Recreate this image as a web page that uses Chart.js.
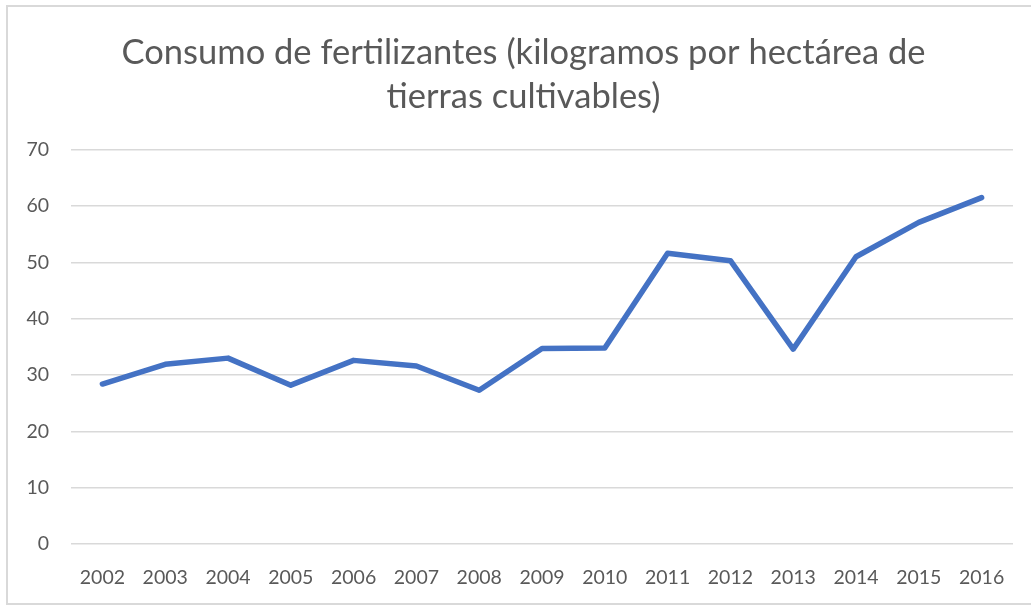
<!DOCTYPE html>
<html>
<head>
<meta charset="utf-8">
<script src="https://cdn.jsdelivr.net/npm/chart.js@4.4.0/dist/chart.umd.min.js"></script>
<style>
    html, body { margin: 0; padding: 0; background: #fff; overflow: hidden; }
    #box {
        position: absolute; left: 6px; top: 5px;
        width: 1030px; height: 596px;
        border: 2px solid #d9d9d9; background: #fff;
    }
</style>
</head>
<body>
<div id="box"><canvas id="chart"></canvas></div>
<script>
    // datos
    var years = ["2002","2003","2004","2005","2006","2007","2008","2009","2010","2011","2012","2013","2014","2015","2016"];
    var consumo = [28.4, 31.9, 33.0, 28.2, 32.6, 31.6, 27.3, 34.7, 34.8, 51.6, 50.3, 34.6, 51.0, 57.1, 61.5];
    var titleLines = ["Consumo de fertilizantes (kilogramos por hectárea de", "tierras cultivables)"];

    var FONT = "Lato, 'Open Sans', sans-serif";
    var GREY = "#595959";

    // el titulo del original esta algo desplazado a la derecha
    var shiftTitle = {
        id: 'shiftTitle',
        afterLayout: function (chart) {
            if (chart.titleBlock) {
                chart.titleBlock.left += 13;
                chart.titleBlock.right += 13;
            }
        }
    };

    var ctx = document.getElementById('chart').getContext('2d');
    var chartObj = new Chart(ctx, {
        type: 'line',
        data: {
            labels: years,
            datasets: [{
                data: consumo,
                borderColor: '#4472C4',
                borderWidth: 5.5,
                borderCapStyle: 'round',
                borderJoinStyle: 'round',
                pointRadius: 0,
                tension: 0,
                fill: false
            }]
        },
        options: {
            responsive: true,
            maintainAspectRatio: false,
            animation: false,
            layout: { padding: { left: 0, right: 25, top: 0, bottom: 0 } },
            plugins: {
                legend: { display: false },
                tooltip: { enabled: false },
                title: {
                    display: true,
                    text: titleLines,
                    color: GREY,
                    font: { family: FONT, size: 34.5, weight: 'normal', lineHeight: 1.3 },
                    padding: { top: 23, bottom: 30 }
                }
            },
            scales: {
                x: {
                    offset: true,
                    grid: { display: false, drawTicks: false },
                    border: { display: false },
                    ticks: { color: GREY, font: { family: FONT, size: 19.5 }, padding: 22, maxRotation: 0, autoSkip: false },
                    afterFit: function (s) { s.height = 59; }
                },
                y: {
                    min: 0, max: 70,
                    ticks: { stepSize: 10, color: GREY, font: { family: FONT, size: 19.5 }, padding: 22 },
                    grid: { color: '#d9d9d9', lineWidth: 1.5, drawTicks: false },
                    border: { display: false },
                    afterFit: function (s) { s.width = 63; }
                }
            }
        },
        plugins: [shiftTitle]
    });
</script>
</body>
</html>
